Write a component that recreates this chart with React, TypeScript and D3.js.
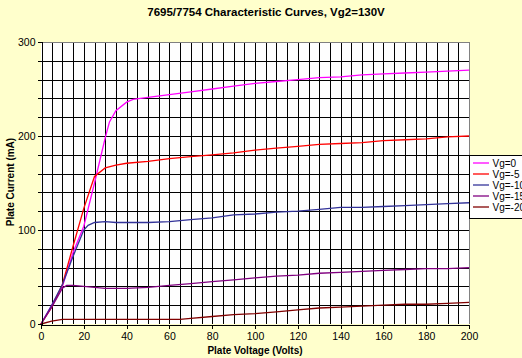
import { useRef, useEffect } from "react";
import * as d3 from "d3";

type Pt = [number, number];

const title = "7695/7754 Characteristic Curves, Vg2=130V";
const xTitle = "Plate Voltage (Volts)";
const yTitle = "Plate Current (mA)";

const seriesNames = ["Vg=0", "Vg=-5", "Vg=-10", "Vg=-15", "Vg=-20"];
const seriesColors = ["#ff00ff", "#ff0000", "#333399", "#800080", "#800000"];

// [plate volts, plate mA]
const vg0: Pt[] = [
  [0, 0], [5, 20], [10, 40], [15, 76], [20, 104], [25, 150], [30, 198], [32, 215],
  [35, 227], [40, 236], [43, 239], [50, 241], [60, 244], [70, 247], [80, 250],
  [90, 253], [100, 256], [110, 258], [120, 260], [130, 262], [140, 263], [150, 265],
  [160, 266], [170, 267], [180, 268], [190, 269], [200, 270],
];
const vg5: Pt[] = [
  [0, 0], [5, 18], [10, 42], [15, 83], [20, 123], [25, 157], [30, 166], [35, 169],
  [40, 171], [50, 173], [60, 176], [70, 178], [80, 180], [90, 182], [100, 185],
  [110, 187], [120, 189], [130, 191], [140, 192], [150, 193], [160, 195], [170, 196],
  [180, 197], [190, 199], [200, 200],
];
const vg10: Pt[] = [
  [0, 0], [5, 20], [10, 42], [15, 72], [20, 100], [22, 105], [25, 108], [30, 109],
  [35, 108], [40, 108], [50, 108], [60, 109], [70, 111], [80, 113], [90, 116],
  [100, 117], [110, 119], [120, 120], [130, 122], [140, 124], [150, 124], [160, 125],
  [170, 126], [180, 127], [190, 128], [200, 129],
];
const vg15: Pt[] = [
  [0, 0], [5, 18], [10, 38], [12, 41], [15, 41], [20, 40], [25, 39], [30, 38],
  [40, 38], [50, 39], [60, 41], [70, 43], [80, 45], [90, 47], [100, 49], [110, 51],
  [120, 52], [130, 54], [140, 55], [150, 56], [160, 57], [170, 58], [180, 59],
  [190, 59], [200, 60],
];
const vg20: Pt[] = [
  [0, 0], [5, 3], [10, 5], [20, 5], [30, 5], [40, 5], [50, 5], [60, 5], [65, 5],
  [70, 6], [80, 8], [90, 10], [100, 11], [110, 13], [120, 15], [130, 17], [140, 18],
  [150, 19], [160, 20], [170, 21], [180, 21], [190, 22], [200, 23],
];
const allSeries = [vg0, vg5, vg10, vg15, vg20];

const xGrid = d3.range(0, 201, 5);
const xTicks = d3.range(0, 201, 20);
const yTicks = d3.range(0, 301, 20);

export default function App() {
  const ref = useRef<SVGSVGElement | null>(null);

  useEffect(() => {
    if (!ref.current) return;
    const W = 522;
    const H = 358;
    const plot = { left: 41, right: 469, top: 42, bottom: 324 };

    const svg = d3.select(ref.current);
    svg.selectAll("*").remove();
    svg.attr("width", W).attr("height", H);

    svg.append("rect").attr("width", W).attr("height", H).attr("fill", "#ffffcc");

    const x = d3.scaleLinear().domain([0, 200]).range([plot.left, plot.right]);
    const y = d3.scaleLinear().domain([0, 300]).range([plot.bottom, plot.top]);

    svg
      .append("rect")
      .attr("x", plot.left)
      .attr("y", plot.top)
      .attr("width", plot.right - plot.left)
      .attr("height", plot.bottom - plot.top)
      .attr("fill", "#fefefe");

    const grid = svg.append("g").attr("shape-rendering", "crispEdges");
    grid
      .selectAll("line.v")
      .data(xGrid.slice(1, -1))
      .join("line")
      .attr("x1", (d) => Math.round(x(d)) + 0.5)
      .attr("x2", (d) => Math.round(x(d)) + 0.5)
      .attr("y1", plot.top)
      .attr("y2", plot.bottom)
      .attr("stroke", "#000");
    grid
      .selectAll("line.h")
      .data(yTicks.slice(1, -1))
      .join("line")
      .attr("class", "h")
      .attr("x1", plot.left)
      .attr("x2", plot.right)
      .attr("y1", (d) => Math.round(y(d)) + 0.5)
      .attr("y2", (d) => Math.round(y(d)) + 0.5)
      .attr("stroke", "#000");

    // top / right border in gray
    svg
      .append("path")
      .attr("d", `M${plot.left},${plot.top + 0.5}H${plot.right + 0.5}V${plot.bottom}`)
      .attr("fill", "none")
      .attr("stroke", "#808080")
      .attr("shape-rendering", "crispEdges");

    const line = d3
      .line<Pt>()
      .x((d) => x(d[0]))
      .y((d) => y(d[1]));

    allSeries.forEach((s, i) => {
      svg
        .append("path")
        .datum(s)
        .attr("fill", "none")
        .attr("stroke", seriesColors[i])
        .attr("stroke-width", 1.3)
        .attr("d", line(s) || "");
    });

    const font = "Arial, 'Liberation Sans', sans-serif";

    const xAxis = svg
      .append("g")
      .attr("transform", `translate(0,${plot.bottom + 0.5})`)
      .call(d3.axisBottom(x).tickValues(xTicks).tickSize(4).tickPadding(4).tickFormat(d3.format("d")));
    const yAxis = svg
      .append("g")
      .attr("transform", `translate(${plot.left + 0.5},0)`)
      .call(
        d3
          .axisLeft(y)
          .tickValues(yTicks)
          .tickSize(4)
          .tickPadding(2)
          .tickFormat((d) => ((d as number) % 100 === 0 ? String(d) : ""))
      );
    [xAxis, yAxis].forEach((a) => {
      a.attr("shape-rendering", "crispEdges");
      a.select(".domain").attr("stroke", "#000");
      a.selectAll(".tick line").attr("stroke", "#000");
      a.selectAll("text")
        .attr("font-family", font)
        .attr("font-size", 10.5)
        .attr("fill", "#000")
        .attr("shape-rendering", null);
    });

    svg
      .append("text")
      .attr("x", 266)
      .attr("y", 16)
      .attr("text-anchor", "middle")
      .attr("font-family", font)
      .attr("font-weight", "bold")
      .attr("font-size", 11.5)
      .text(title);

    svg
      .append("text")
      .attr("x", 255)
      .attr("y", 354)
      .attr("text-anchor", "middle")
      .attr("font-family", font)
      .attr("font-weight", "bold")
      .attr("font-size", 10)
      .text(xTitle);

    svg
      .append("text")
      .attr("transform", `translate(14,182) rotate(-90)`)
      .attr("text-anchor", "middle")
      .attr("font-family", font)
      .attr("font-weight", "bold")
      .attr("font-size", 10)
      .text(yTitle);

    // legend runs past the right edge, as in the original
    const legend = svg.append("g").attr("transform", `translate(469.5,155.5)`);
    legend
      .append("rect")
      .attr("width", 70)
      .attr("height", 63)
      .attr("fill", "#fefefe")
      .attr("stroke", "#000")
      .attr("shape-rendering", "crispEdges");
    seriesNames.forEach((name, i) => {
      const cy = 7.5 + i * 11;
      legend
        .append("line")
        .attr("x1", 3.5)
        .attr("x2", 19.5)
        .attr("y1", cy)
        .attr("y2", cy)
        .attr("stroke", seriesColors[i])
        .attr("stroke-width", 1.3);
      legend
        .append("text")
        .attr("x", 23)
        .attr("y", cy + 3.5)
        .attr("font-family", font)
        .attr("font-size", 10)
        .text(name);
    });
  }, []);

  return <svg ref={ref} style={{ position: "absolute", left: 0, top: 0 }} />;
}
